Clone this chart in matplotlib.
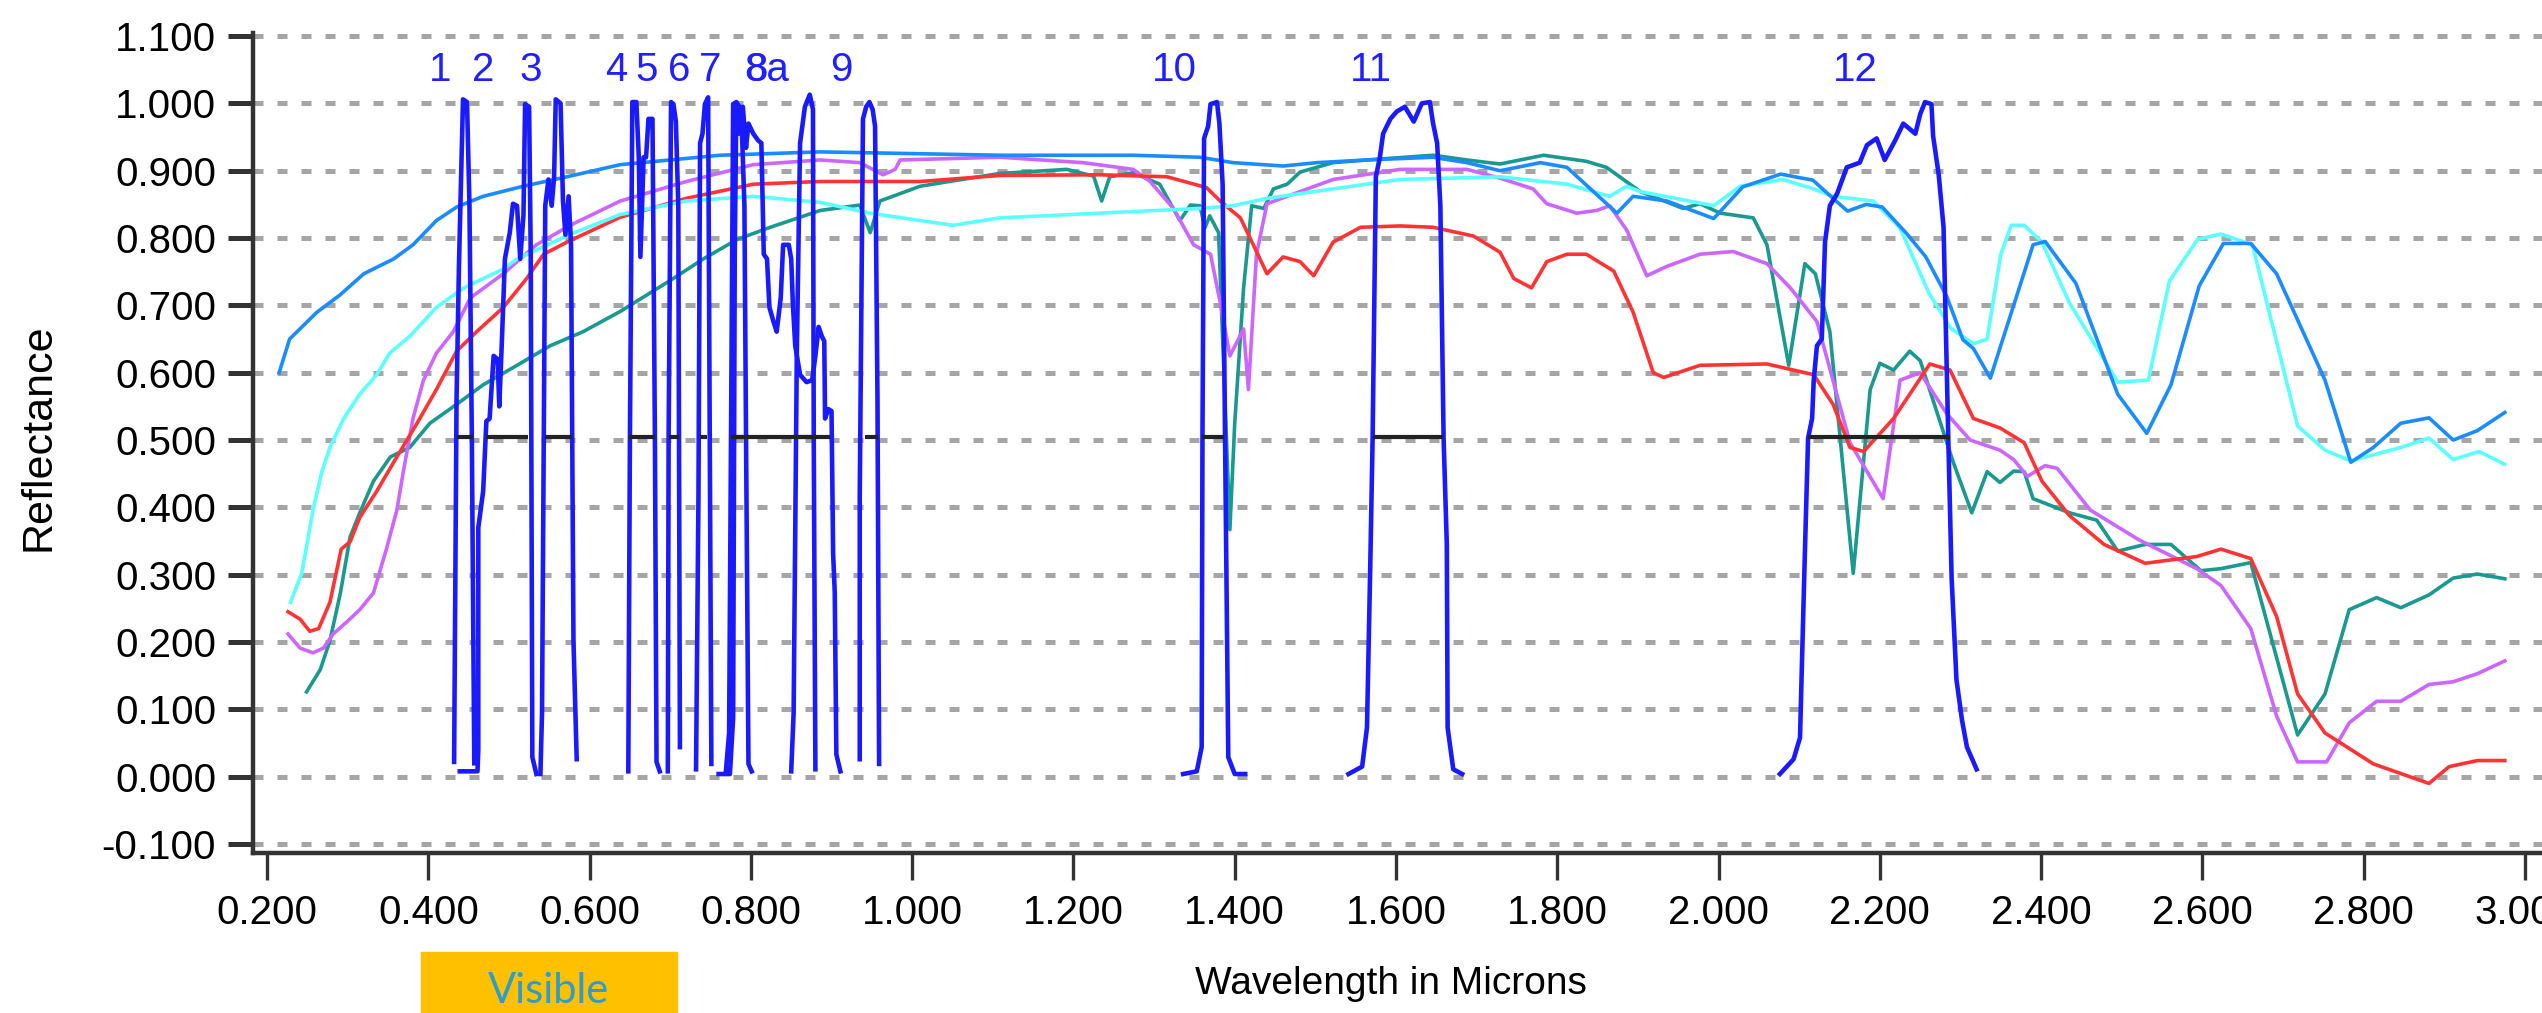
import matplotlib
matplotlib.use('Agg')
import matplotlib.pyplot as plt
from matplotlib import transforms
from matplotlib.patches import Rectangle
from matplotlib.ticker import FormatStrFormatter
import numpy as np

plt.rcParams['font.family'] = ['Liberation Sans', 'DejaVu Sans']

# --- reflectance spectra (wavelength in microns, reflectance) ---
dodger_x = [0.215, 0.228, 0.262, 0.290, 0.320, 0.357, 0.381, 0.410, 0.435, 0.468, 0.518, 0.572, 0.638,
            0.762, 0.886, 1.109, 1.274, 1.357, 1.398, 1.460, 1.502, 1.564, 1.646, 1.688, 1.729, 1.779,
            1.812, 1.874, 1.894, 1.936, 1.994, 2.030, 2.077, 2.117, 2.140, 2.160, 2.183, 2.203, 2.233,
            2.257, 2.283, 2.303, 2.316, 2.337, 2.390, 2.405, 2.443, 2.495, 2.531, 2.561, 2.596, 2.626,
            2.660, 2.692, 2.752, 2.784, 2.812, 2.846, 2.881, 2.911, 2.941, 2.975]
dodger_y = [0.600, 0.650, 0.690, 0.715, 0.747, 0.769, 0.790, 0.826, 0.846, 0.862, 0.877, 0.891, 0.909,
            0.923, 0.928, 0.923, 0.923, 0.920, 0.912, 0.907, 0.912, 0.916, 0.920, 0.912, 0.900, 0.912,
            0.905, 0.837, 0.862, 0.855, 0.829, 0.876, 0.895, 0.886, 0.861, 0.840, 0.850, 0.846, 0.807,
            0.772, 0.713, 0.649, 0.636, 0.592, 0.790, 0.795, 0.733, 0.568, 0.510, 0.582, 0.729, 0.792,
            0.792, 0.747, 0.589, 0.467, 0.489, 0.525, 0.533, 0.500, 0.514, 0.541]

cyan_x = [0.229, 0.243, 0.257, 0.268, 0.278, 0.295, 0.315, 0.336, 0.352, 0.377, 0.410, 0.444, 0.493,
          0.510, 0.575, 0.638, 0.720, 0.803, 0.886, 0.948, 1.010, 1.051, 1.109, 1.233, 1.357, 1.398,
          1.440, 1.522, 1.605, 1.729, 1.812, 1.865, 1.886, 1.903, 1.994, 2.027, 2.080, 2.118, 2.142,
          2.192, 2.225, 2.261, 2.288, 2.316, 2.333, 2.350, 2.363, 2.379, 2.401, 2.435, 2.495, 2.533,
          2.559, 2.594, 2.623, 2.662, 2.718, 2.752, 2.784, 2.846, 2.881, 2.911, 2.943, 2.975]
cyan_y = [0.259, 0.302, 0.396, 0.453, 0.489, 0.532, 0.568, 0.597, 0.629, 0.654, 0.697, 0.726, 0.754,
          0.769, 0.805, 0.835, 0.855, 0.862, 0.853, 0.837, 0.826, 0.819, 0.830, 0.837, 0.844, 0.848,
          0.859, 0.873, 0.887, 0.891, 0.880, 0.862, 0.877, 0.869, 0.848, 0.877, 0.887, 0.873, 0.862,
          0.855, 0.815, 0.718, 0.666, 0.643, 0.650, 0.776, 0.819, 0.819, 0.794, 0.704, 0.586, 0.589,
          0.736, 0.798, 0.806, 0.790, 0.521, 0.485, 0.469, 0.489, 0.503, 0.471, 0.483, 0.464]

red_x = [0.226, 0.241, 0.253, 0.264, 0.278, 0.292, 0.303, 0.315, 0.336, 0.357, 0.386, 0.410, 0.435,
         0.460, 0.493, 0.522, 0.543, 0.572, 0.638, 0.720, 0.803, 0.886, 1.010, 1.109, 1.233, 1.316,
         1.365, 1.382, 1.407, 1.423, 1.440, 1.460, 1.481, 1.498, 1.522, 1.556, 1.605, 1.646, 1.696,
         1.729, 1.746, 1.768, 1.787, 1.812, 1.836, 1.870, 1.894, 1.919, 1.932, 1.977, 2.060, 2.118,
         2.142, 2.163, 2.180, 2.217, 2.262, 2.287, 2.316, 2.349, 2.379, 2.401, 2.435, 2.478, 2.529,
         2.593, 2.623, 2.660, 2.692, 2.718, 2.752, 2.812, 2.881, 2.906, 2.941, 2.975]
red_y = [0.245, 0.234, 0.216, 0.220, 0.259, 0.338, 0.349, 0.385, 0.424, 0.467, 0.525, 0.575, 0.632,
         0.661, 0.697, 0.740, 0.776, 0.794, 0.831, 0.859, 0.880, 0.884, 0.884, 0.893, 0.894, 0.891,
         0.875, 0.855, 0.830, 0.790, 0.747, 0.772, 0.765, 0.744, 0.794, 0.816, 0.818, 0.816, 0.803,
         0.779, 0.740, 0.726, 0.765, 0.776, 0.776, 0.751, 0.690, 0.600, 0.593, 0.611, 0.613, 0.597,
         0.553, 0.489, 0.483, 0.532, 0.613, 0.604, 0.532, 0.518, 0.496, 0.439, 0.388, 0.345, 0.317,
         0.327, 0.338, 0.324, 0.238, 0.123, 0.065, 0.019, -0.010, 0.015, 0.024, 0.024]

purple_x = [0.226, 0.241, 0.257, 0.270, 0.282, 0.299, 0.315, 0.332, 0.348, 0.361, 0.369, 0.381, 0.394,
            0.410, 0.431, 0.452, 0.493, 0.534, 0.576, 0.638, 0.720, 0.803, 0.886, 0.935, 0.964, 0.979,
            0.985, 1.109, 1.212, 1.274, 1.295, 1.324, 1.349, 1.370, 1.382, 1.394, 1.411, 1.417, 1.427,
            1.440, 1.481, 1.522, 1.605, 1.688, 1.729, 1.770, 1.787, 1.824, 1.849, 1.865, 1.886, 1.911,
            1.936, 1.977, 2.018, 2.060, 2.089, 2.122, 2.163, 2.204, 2.225, 2.250, 2.283, 2.312, 2.349,
            2.366, 2.383, 2.405, 2.420, 2.461, 2.521, 2.593, 2.623, 2.660, 2.692, 2.718, 2.754, 2.782,
            2.816, 2.846, 2.881, 2.911, 2.941, 2.975]
purple_y = [0.212, 0.191, 0.184, 0.191, 0.212, 0.230, 0.248, 0.273, 0.338, 0.396, 0.453, 0.532, 0.589,
            0.629, 0.661, 0.711, 0.747, 0.790, 0.819, 0.855, 0.884, 0.909, 0.916, 0.912, 0.894, 0.902,
            0.916, 0.920, 0.912, 0.902, 0.884, 0.844, 0.790, 0.776, 0.704, 0.625, 0.665, 0.575, 0.776,
            0.851, 0.869, 0.887, 0.902, 0.902, 0.889, 0.873, 0.851, 0.837, 0.841, 0.848, 0.812, 0.744,
            0.758, 0.776, 0.780, 0.762, 0.726, 0.676, 0.496, 0.413, 0.589, 0.600, 0.539, 0.500, 0.485,
            0.471, 0.446, 0.462, 0.458, 0.396, 0.352, 0.309, 0.284, 0.220, 0.090, 0.022, 0.022, 0.080,
            0.112, 0.112, 0.137, 0.141, 0.153, 0.172]

teal_x = [0.249, 0.266, 0.278, 0.291, 0.303, 0.315, 0.332, 0.353, 0.377, 0.402, 0.435, 0.468, 0.510,
          0.551, 0.592, 0.638, 0.700, 0.741, 0.783, 0.824, 0.886, 0.935, 0.948, 0.960, 1.010, 1.051,
          1.109, 1.192, 1.225, 1.235, 1.245, 1.274, 1.307, 1.332, 1.345, 1.357, 1.363, 1.369, 1.380,
          1.394, 1.400, 1.411, 1.421, 1.436, 1.448, 1.465, 1.481, 1.522, 1.564, 1.646, 1.688, 1.729,
          1.783, 1.836, 1.861, 1.903, 1.956, 1.977, 2.002, 2.043, 2.060, 2.087, 2.107, 2.120, 2.138,
          2.167, 2.188, 2.200, 2.217, 2.237, 2.250, 2.291, 2.314, 2.333, 2.349, 2.366, 2.379, 2.390,
          2.435, 2.469, 2.495, 2.529, 2.561, 2.598, 2.623, 2.660, 2.718, 2.752, 2.782, 2.816, 2.846,
          2.881, 2.911, 2.941, 2.975]
teal_y = [0.126, 0.159, 0.202, 0.273, 0.356, 0.392, 0.439, 0.475, 0.489, 0.525, 0.553, 0.582, 0.611,
          0.640, 0.661, 0.691, 0.737, 0.769, 0.798, 0.816, 0.841, 0.849, 0.808, 0.855, 0.877, 0.885,
          0.896, 0.902, 0.892, 0.855, 0.891, 0.897, 0.880, 0.826, 0.849, 0.848, 0.815, 0.833, 0.808,
          0.367, 0.525, 0.726, 0.848, 0.844, 0.873, 0.880, 0.898, 0.912, 0.916, 0.923, 0.916, 0.910,
          0.923, 0.914, 0.905, 0.869, 0.844, 0.851, 0.837, 0.830, 0.790, 0.611, 0.762, 0.747, 0.661,
          0.302, 0.575, 0.614, 0.604, 0.632, 0.618, 0.467, 0.392, 0.453, 0.437, 0.454, 0.453, 0.413,
          0.392, 0.381, 0.335, 0.345, 0.345, 0.306, 0.309, 0.318, 0.062, 0.123, 0.248, 0.266, 0.251,
          0.270, 0.295, 0.301, 0.294]

# --- band spectral responses ---
band_wl = [
    [0.432, 0.435, 0.438, 0.443, 0.448, 0.451, 0.454, 0.457],
    [0.439, 0.461, 0.462, 0.462, 0.468, 0.472, 0.476, 0.481, 0.486, 0.488, 0.491, 0.495, 0.501, 0.505,
     0.510, 0.514, 0.518, 0.520, 0.525, 0.527, 0.529, 0.534],
    [0.539, 0.541, 0.545, 0.549, 0.553, 0.556, 0.558, 0.564, 0.567, 0.570, 0.574, 0.577, 0.580, 0.584],
    [0.648, 0.650, 0.653, 0.658, 0.661, 0.663, 0.667, 0.670, 0.673, 0.678, 0.681, 0.683, 0.687],
    [0.697, 0.698, 0.701, 0.704, 0.707, 0.710, 0.712],
    [0.732, 0.735, 0.737, 0.740, 0.743, 0.747, 0.749, 0.751],
    [0.769, 0.773, 0.778, 0.782, 0.788, 0.792, 0.794, 0.797, 0.801],
    [0.760, 0.774, 0.778, 0.780, 0.782, 0.786, 0.790, 0.794, 0.797, 0.803, 0.809, 0.813, 0.816, 0.820,
     0.823, 0.828, 0.832, 0.837, 0.840, 0.847, 0.850, 0.852, 0.855, 0.861, 0.869, 0.876, 0.880, 0.884,
     0.888, 0.891, 0.892, 0.896, 0.900, 0.902, 0.904, 0.906, 0.911],
    [0.850, 0.853, 0.857, 0.861, 0.867, 0.873, 0.877, 0.878, 0.880],
    [0.935, 0.935, 0.939, 0.943, 0.947, 0.951, 0.954, 0.957, 0.959],
    [1.336, 1.353, 1.359, 1.360, 1.362, 1.367, 1.370, 1.378, 1.381, 1.385, 1.388, 1.392, 1.400, 1.413],
    [1.541, 1.558, 1.564, 1.568, 1.571, 1.575, 1.580, 1.584, 1.593, 1.601, 1.611, 1.622, 1.632, 1.642,
     1.646, 1.651, 1.655, 1.659, 1.663, 1.664, 1.671, 1.682],
    [2.076, 2.093, 2.101, 2.103, 2.107, 2.111, 2.116, 2.118, 2.122, 2.128, 2.132, 2.138, 2.147, 2.159,
     2.175, 2.184, 2.196, 2.206, 2.219, 2.229, 2.244, 2.250, 2.256, 2.264, 2.266, 2.273, 2.279, 2.285,
     2.289, 2.295, 2.302, 2.308, 2.320],
]
band_resp = [
    [0.022, 0.560, 0.760, 1.006, 1.002, 0.850, 0.500, 0.020],
    [0.008, 0.008, 0.040, 0.370, 0.424, 0.528, 0.532, 0.625, 0.620, 0.550, 0.640, 0.769, 0.808, 0.851,
     0.848, 0.769, 0.834, 0.999, 0.995, 0.776, 0.029, 0.004],
    [0.004, 0.094, 0.848, 0.887, 0.848, 0.891, 1.006, 1.000, 0.855, 0.805, 0.862, 0.790, 0.202, 0.026],
    [0.008, 0.503, 1.002, 1.002, 0.920, 0.772, 0.920, 0.920, 0.977, 0.977, 0.503, 0.022, 0.008],
    [0.008, 0.503, 1.002, 0.999, 0.973, 0.848, 0.044],
    [0.011, 0.417, 0.941, 0.955, 0.999, 1.009, 0.503, 0.019],
    [0.008, 0.065, 0.999, 1.002, 0.991, 0.848, 0.503, 0.019, 0.008],
    [0.004, 0.004, 0.087, 0.776, 0.999, 0.955, 0.995, 0.934, 0.970, 0.955, 0.945, 0.941, 0.776, 0.769,
     0.697, 0.676, 0.661, 0.711, 0.790, 0.790, 0.769, 0.704, 0.640, 0.597, 0.586, 0.589, 0.625, 0.668,
     0.654, 0.647, 0.532, 0.546, 0.543, 0.331, 0.274, 0.033, 0.008],
    [0.008, 0.094, 0.632, 0.941, 0.995, 1.013, 0.991, 0.489, 0.011],
    [0.026, 0.417, 0.977, 0.995, 1.002, 0.991, 0.966, 0.561, 0.019],
    [0.004, 0.008, 0.044, 0.503, 0.948, 0.966, 0.999, 1.002, 0.970, 0.880, 0.503, 0.029, 0.004, 0.004],
    [0.004, 0.015, 0.073, 0.309, 0.503, 0.891, 0.920, 0.955, 0.977, 0.988, 0.995, 0.973, 1.000, 1.002,
     0.970, 0.941, 0.848, 0.503, 0.345, 0.073, 0.011, 0.004],
    [0.004, 0.026, 0.058, 0.151, 0.331, 0.503, 0.532, 0.589, 0.640, 0.650, 0.794, 0.848, 0.866, 0.905,
     0.912, 0.938, 0.948, 0.916, 0.945, 0.970, 0.955, 0.984, 1.002, 0.999, 0.952, 0.894, 0.816, 0.496,
     0.295, 0.144, 0.083, 0.044, 0.011],
]

# half-maximum widths of the bands
fwhm_lo = [0.436, 0.472, 0.545, 0.649, 0.698, 0.737, 0.775, 0.778, 0.855, 0.942, 1.359, 1.571, 2.111]
fwhm_hi = [0.455, 0.524, 0.578, 0.681, 0.711, 0.746, 0.794, 0.898, 0.876, 0.958, 1.387, 1.658, 2.287]

band_labels = ['1', '2', '3', '4', '5', '6', '7', '8', '8a', '9', '10', '11', '12']
band_label_x = [0.4145, 0.468, 0.527, 0.633, 0.671, 0.711, 0.749, 0.8068, 0.820, 0.912, 1.325, 1.569, 2.170]

visible_range = (0.391, 0.708)
yticks = [-0.1, 0.0, 0.1, 0.2, 0.3, 0.4, 0.5, 0.6, 0.7, 0.8, 0.9, 1.0, 1.1]
xticks = [0.2, 0.4, 0.6, 0.8, 1.0, 1.2, 1.4, 1.6, 1.8, 2.0, 2.2, 2.4, 2.6, 2.8, 3.0]

W, H = 2542, 1013
fig = plt.figure(figsize=(W / 100, H / 100), dpi=100)
ax = fig.add_axes([253 / W, 1 - 853 / H, 1 - 253 / W, (853 - 32.7) / H])
ax.set_xlim(0.1826, 3.0211)
ax.set_ylim(-0.1133, 1.105)

ax.set_yticks(yticks)
ax.set_xticks(xticks)
ax.yaxis.set_major_formatter(FormatStrFormatter('%.3f'))
ax.xaxis.set_major_formatter(FormatStrFormatter('%.3f'))
ax.set_axisbelow(True)
ax.yaxis.grid(True, color='#a6a6a6', linewidth=3.6, linestyle=(0, (2.0, 2.8)))
ax.xaxis.grid(False)

for side in ['top', 'right']:
    ax.spines[side].set_visible(False)
for side in ['left', 'bottom']:
    ax.spines[side].set_linewidth(3.2)
    ax.spines[side].set_color('#333333')

ax.tick_params(axis='y', length=18, width=3.6, color='#333333', pad=8.5, labelsize=29)
ax.tick_params(axis='x', length=19.5, width=2.4, color='#333333', pad=10, labelsize=29)

# spectra
ax.plot(teal_x, teal_y, color='#19998f', lw=2.6, solid_joinstyle='round', zorder=3)
ax.plot(purple_x, purple_y, color='#cc66ff', lw=2.6, solid_joinstyle='round', zorder=3)
ax.plot(red_x, red_y, color='#ff3333', lw=2.6, solid_joinstyle='round', zorder=3)
ax.plot(cyan_x, cyan_y, color='#5cffff', lw=2.6, solid_joinstyle='round', zorder=3)
ax.plot(dodger_x, dodger_y, color='#1a8cff', lw=2.6, solid_joinstyle='round', zorder=3)

# band responses
for wl, resp in zip(band_wl, band_resp):
    ax.plot(wl, resp, color='#1a1aff', lw=3.3, solid_joinstyle='round', zorder=4)

ax.hlines([0.505] * len(fwhm_lo), fwhm_lo, fwhm_hi, color='#222222', lw=3.0, zorder=5)

for lab, lx in zip(band_labels, band_label_x):
    ax.text(lx, 1.0496, lab, color='#1f1fff', fontsize=29, ha='center', va='center', zorder=6)

ax.set_xlabel('Wavelength in Microns', fontsize=28)
ax.xaxis.set_label_coords((1391 - 253) / 2289, (853 - 994) / 820.3)
ax.xaxis.label.set_va('baseline')
ax.set_ylabel('Reflectance', fontsize=31)
ax.yaxis.set_label_coords((39 - 253) / 2289, (853 - 437) / 820.3)
ax.yaxis.label.set_va('center')

# "Visible" box under the axis
trans = transforms.blended_transform_factory(ax.transData, fig.transFigure)
ax.add_patch(Rectangle((visible_range[0], 0), visible_range[1] - visible_range[0], (H - 952) / H,
                       transform=trans, color='#ffc000', clip_on=False, zorder=1))
ax.text(sum(visible_range) / 2, (H - 1003) / H, 'Visible', transform=trans, ha='center',
        va='baseline', fontsize=30, color='#2e9ccc', family=['Lato', 'DejaVu Sans'])

fig.savefig('out.png', dpi=100)
